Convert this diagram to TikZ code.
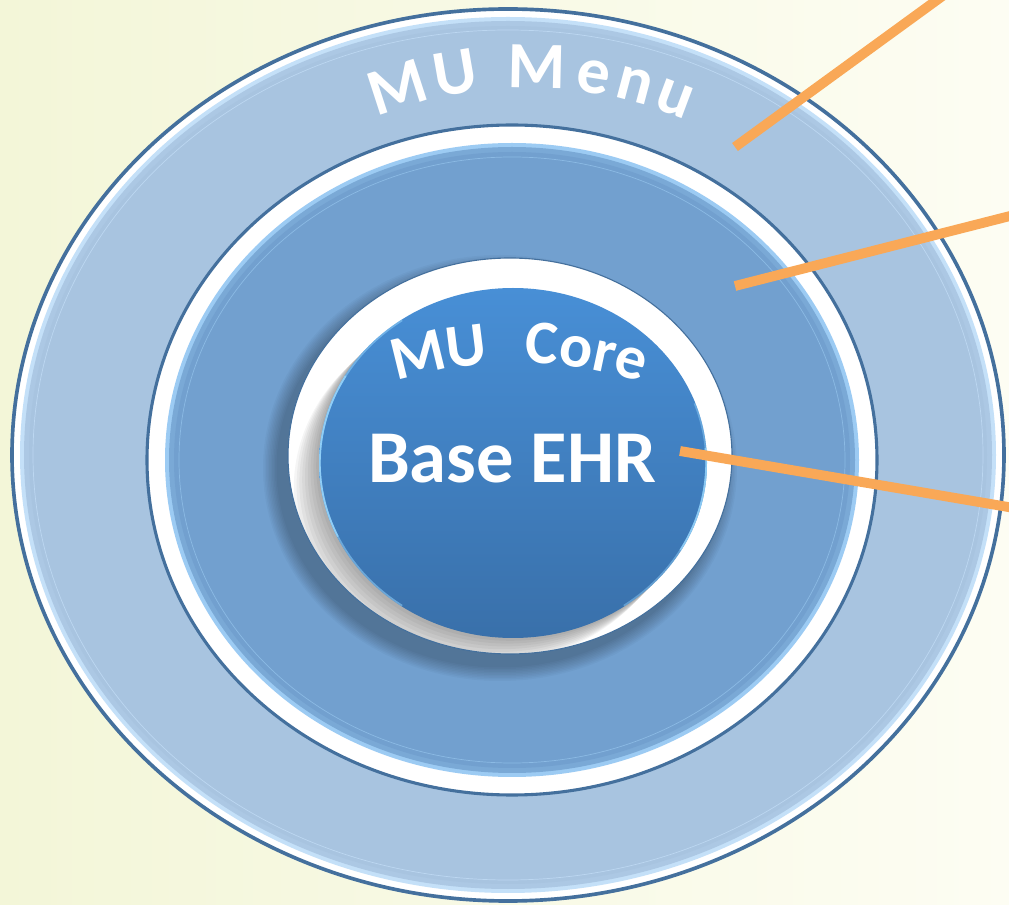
\documentclass[tikz,border=0pt]{standalone}
\usepackage{fontspec}
\setmainfont{Carlito}
\usetikzlibrary{calc}
\definecolor{bgL}{HTML}{F3F6D8}
\definecolor{bgR}{HTML}{FDFDF3}
\definecolor{rim}{HTML}{44709D}
\definecolor{ringA}{HTML}{A8C4E0}
\definecolor{ringAedge}{HTML}{C4E0F8}
\definecolor{ringB}{HTML}{72A0CF}
\definecolor{ringBedge}{HTML}{9CCBF3}
\definecolor{coreTop}{HTML}{488FD6}
\definecolor{coreBot}{HTML}{3970AA}
\definecolor{glint}{HTML}{93D2FA}
\definecolor{leader}{HTML}{F9A857}
\begin{document}
\begin{tikzpicture}[x=0.025cm,y=0.025cm,
  menuletter/.style={text=white, font=\bfseries\fontsize{47}{47}\selectfont, anchor=base, inner sep=0pt},
  coreletter/.style={text=white, font=\bfseries\fontsize{44}{44}\selectfont, anchor=base, inner sep=0pt},
  leaderline/.style={draw=leader, line width=7pt}]
\useasboundingbox (0,0) rectangle (1009,-905);
\clip (0,0) rectangle (1009,-905);
% background
\shade[left color=bgL, right color=bgR] (0,0) rectangle (1009,-905);

% outer ring
\coordinate (oc) at (508,-455);
\fill[white] (oc) ellipse [x radius=496, y radius=446];
\draw[rim, line width=2.6pt] (oc) ellipse [x radius=496, y radius=446];
\fill[ringAedge] (oc) ellipse [x radius=488, y radius=438];
\fill[ringA!85!ringAedge] (oc) ellipse [x radius=484, y radius=434];
\fill[ringA] (oc) ellipse [x radius=479, y radius=429];
\draw[ringAedge!70!ringA, line width=0.5pt] (oc) ellipse [x radius=475, y radius=425];

% middle ring
\coordinate (mc) at (512,-460);
\fill[white] (mc) ellipse [x radius=365, y radius=335];
\draw[rim, line width=2.2pt] (mc) ellipse [x radius=365, y radius=335];
\fill[ringBedge] (mc) ellipse [x radius=347, y radius=317];
\fill[ringB!80!ringBedge] (mc) ellipse [x radius=343, y radius=313];
\fill[ringB] (mc) ellipse [x radius=338, y radius=308];
\draw[ringBedge!60!ringB, line width=0.5pt] (mc) ellipse [x radius=333, y radius=303];

% soft drop shadow of the core button
\foreach \k in {1,...,10}
  \fill[black, opacity=0.028] ($(510,-456)+(-10,-12)$) ellipse [x radius=222+1.5*\k, y radius=198+1.5*\k];

% white button base
\coordinate (ic) at (510,-456);
\fill[white] (ic) ellipse [x radius=222, y radius=198];
\begin{scope}
  \clip (ic) ellipse [x radius=222, y radius=198];
  \foreach \k in {1,...,9}
    \fill[black, opacity=0.04] ($(513,-463)+(-2.8*\k,-2.8*\k)$) ellipse [x radius=194, y radius=175];
\end{scope}
\draw[rim, line width=0.8pt] (ic) ellipse [x radius=222, y radius=198];

% blue core with glinting rim
\coordinate (cc) at (513,-463);
\shade[top color=coreTop, bottom color=coreBot] (cc) ellipse [x radius=194, y radius=175];
\begin{scope}
  \clip (cc) ellipse [x radius=194, y radius=175];
  \draw[glint, line width=2.4pt, opacity=0.55]
    ($(cc)+(125:194 and 175)$) arc [start angle=125, end angle=235, x radius=194, y radius=175];
  \draw[glint, line width=2.4pt, opacity=0.9]
    ($(cc)+(150:194 and 175)$) arc [start angle=150, end angle=205, x radius=194, y radius=175];
  \draw[glint, line width=2.4pt, opacity=0.45]
    ($(cc)+(-55:194 and 175)$) arc [start angle=-55, end angle=20, x radius=194, y radius=175];
  \draw[glint, line width=2.4pt, opacity=0.8]
    ($(cc)+(-30:194 and 175)$) arc [start angle=-30, end angle=5, x radius=194, y radius=175];
\end{scope}

% labels
\coordinate (menuc) at (528,-488);
\foreach \a/\l/\n in {108.0/M/1, 99.9/U/2, 88.8/M/3, 80.9/e/4, 75.1/n/5, 69.4/u/6}
  \path (menuc) ++(\a:400) node[menuletter, rotate=\a-90] (menu\n) {\l};
\coordinate (corec) at (518,-763);
\foreach \a/\l/\n in {103.8/M/1, 97.1/U/2, 86.7/C/3, 81.9/o/4, 78.0/r/5, 74.2/e/6}
  \path (corec) ++(\a:400) node[coreletter, rotate=\a-90] (core\n) {\l};
\node[text=white, font=\bfseries\fontsize{53}{53}\selectfont, anchor=base, inner sep=0pt]
  (base) at (512,-483) {Base EHR};

% leader lines
\coordinate (l1a) at (735,-147);
\coordinate (l1b) at (948,8);
\coordinate (l2a) at (735,-286);
\coordinate (l2b) at (1014,-215);
\coordinate (l3a) at (680,-451);
\coordinate (l3b) at (1014,-508);
\draw[leaderline] (l1a) -- (l1b);
\draw[leaderline] (l2a) -- (l2b);
\draw[leaderline] (l3a) -- (l3b);
\end{tikzpicture}
\end{document}
